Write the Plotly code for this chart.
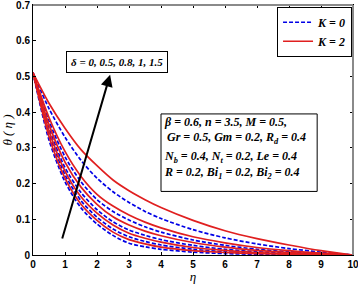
import plotly.graph_objects as go

eta = [0, 0.5, 1, 1.5, 2, 2.5, 3, 3.5, 4, 5, 6, 7, 8, 9, 10]

# theta(eta) for delta = 1.5, 1, 0.8, 0.5, 0 ; K = 2 (red) and K = 0 (blue)
red_d15 = [0.51, 0.425, 0.355, 0.295, 0.25, 0.21, 0.18, 0.155, 0.133, 0.097, 0.068, 0.046, 0.028, 0.012, 0]
blue_d15 = [0.51, 0.41, 0.33, 0.265, 0.215, 0.177, 0.147, 0.122, 0.102, 0.071, 0.048, 0.031, 0.018, 0.008, 0]
red_d10 = [0.51, 0.385, 0.29, 0.22, 0.17, 0.137, 0.112, 0.092, 0.076, 0.051, 0.034, 0.021, 0.012, 0.005, 0]
blue_d10 = [0.51, 0.375, 0.275, 0.205, 0.155, 0.122, 0.098, 0.079, 0.064, 0.042, 0.027, 0.016, 0.009, 0.004, 0]
red_d08 = [0.51, 0.365, 0.26, 0.19, 0.142, 0.107, 0.084, 0.067, 0.054, 0.035, 0.022, 0.013, 0.007, 0.003, 0]
blue_d08 = [0.51, 0.355, 0.245, 0.175, 0.127, 0.093, 0.07, 0.055, 0.043, 0.027, 0.016, 0.009, 0.005, 0.002, 0]
red_d05 = [0.51, 0.348, 0.235, 0.163, 0.117, 0.084, 0.061, 0.047, 0.036, 0.021, 0.013, 0.007, 0.004, 0.002, 0]
blue_d05 = [0.51, 0.34, 0.225, 0.152, 0.106, 0.073, 0.051, 0.038, 0.028, 0.016, 0.009, 0.005, 0.003, 0.001, 0]
red_d0 = [0.51, 0.332, 0.215, 0.142, 0.097, 0.064, 0.043, 0.031, 0.022, 0.012, 0.007, 0.004, 0.002, 0.001, 0]
blue_d0 = [0.51, 0.322, 0.205, 0.132, 0.087, 0.055, 0.033, 0.023, 0.016, 0.008, 0.004, 0.002, 0.001, 0.0005, 0]

red_series = [red_d15, red_d10, red_d08, red_d05, red_d0]
blue_series = [blue_d15, blue_d10, blue_d08, blue_d05, blue_d0]

x_ticks = [0, 1, 2, 3, 4, 5, 6, 7, 8, 9, 10]
y_ticks = [0, 0.1, 0.2, 0.3, 0.4, 0.5, 0.6, 0.7]
y_tick_text = ["0", "0.1", "0.2", "0.3", "0.4", "0.5", "0.6", "0.7"]

RED = "#e01f1f"
BLUE = "#0000e6"
SERIF = "Liberation Serif"
SANS = "Liberation Sans"

fig = go.Figure()
for i, ys in enumerate(blue_series):
    fig.add_trace(go.Scatter(x=eta, y=ys, mode="lines", line=dict(color=BLUE, width=1.7, dash="4px,2px", shape="spline", smoothing=0.8),
                             name="<i>K = 0</i>", showlegend=(i == 0), legendrank=1))
for i, ys in enumerate(red_series):
    fig.add_trace(go.Scatter(x=eta, y=ys, mode="lines", line=dict(color=RED, width=1.7, shape="spline", smoothing=0.8),
                             name="<i>K = 2</i>", showlegend=(i == 0), legendrank=2))

axis_common = dict(showline=True, linecolor="black", linewidth=1, mirror="ticks", ticks="inside", ticklen=3,
                   tickcolor="black", showgrid=False, zeroline=False, automargin=False, ticklabeloverflow="allow",
                   tickfont=dict(family=SANS, size=10, color="black", weight="bold"))

fig.update_xaxes(range=[0, 10], tickvals=x_ticks, ticktext=[str(v) for v in x_ticks],
                 title=dict(text="<i>η</i>", font=dict(family=SERIF, size=13, color="black"), standoff=9), **axis_common)
fig.update_yaxes(range=[0, 0.7], tickvals=y_ticks, ticktext=y_tick_text,
                 title=dict(text="<i>θ ( η )</i>", font=dict(family=SERIF, size=13, color="black"), standoff=1), **axis_common)

# gray top/right frame
fig.add_shape(type="line", xref="paper", yref="paper", x0=0, x1=1, y0=1, y1=1, line=dict(color="#8a8a8a", width=2), layer="above")
fig.add_shape(type="line", xref="paper", yref="paper", x0=1, x1=1, y0=0, y1=1, line=dict(color="#8a8a8a", width=2), layer="above")

# arrow for delta
fig.add_annotation(x=2.41, y=0.505, ax=0.9, ay=0.042, xref="x", yref="y", axref="x", ayref="y",
                   showarrow=True, arrowhead=2, arrowsize=1.2, arrowwidth=2, arrowcolor="black", text="")
fig.add_annotation(x=2.62, y=0.541, xref="x", yref="y", showarrow=False,
                   text="<b><i>δ = 0, 0.5, 0.8, 1, 1.5</i></b>",
                   font=dict(family=SERIF, size=11, color="black"),
                   bordercolor="black", borderwidth=1, borderpad=4, bgcolor="white")

# parameter box
fig.add_shape(type="rect", xref="x", yref="y", x0=4.0, x1=8.88, y0=0.178, y1=0.395,
              line=dict(color="black", width=1), fillcolor="white", layer="above")
param_lines = [
    "<b><i>β = 0.6, n = 3.5, M = 0.5,</i></b>",
    "<b><i> Gr = 0.5, Gm = 0.2, R<sub>d</sub> = 0.4</i></b>",
    "<b><i>N<sub>b</sub> = 0.4, N<sub>t</sub> = 0.2, Le = 0.4</i></b>",
    "<b><i>R = 0.2, Bi<sub>1</sub> = 0.2, Bi<sub>2</sub> = 0.4</i></b>",
]
param_y = [0.372, 0.327, 0.275, 0.229]
for txt, yy in zip(param_lines, param_y):
    fig.add_annotation(x=4.04, y=yy, xref="x", yref="y", xanchor="left", showarrow=False, text=txt,
                       font=dict(family=SERIF, size=12, color="black"))

fig.update_layout(
    width=358, height=284,
    margin=dict(l=33, r=5, t=5, b=29, autoexpand=False),
    paper_bgcolor="white", plot_bgcolor="white",
    legend=dict(x=0.997, y=0.993, xanchor="right", yanchor="top", bgcolor="white", bordercolor="black", borderwidth=1,
                font=dict(family=SERIF, size=12, color="black", weight="bold"), itemwidth=30, tracegroupgap=0),
)

fig.write_html("out.html", config={"displayModeBar": False},
               post_script="document.body.style.margin='0';document.body.style.padding='0';")
